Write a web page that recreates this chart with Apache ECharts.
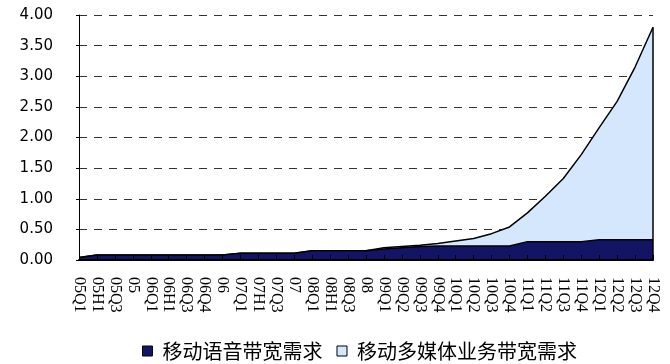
<!DOCTYPE html>
<html><head><meta charset="utf-8">
<script src="https://cdn.jsdelivr.net/npm/echarts@6/dist/echarts.min.js"></script>
<style>html,body{margin:0;padding:0;background:#fff;}#c{width:670px;height:364px;}</style>
</head><body><div id="c"></div>
<script>
const categories = ['05Q1','05H1','05Q3','05','06Q1','06H1','06Q3','06Q4','06','07Q1','07H1','07Q3','07','08Q1','08H1','08Q3','08','09Q1','09Q2','09Q3','09Q4','10Q1','10Q2','10Q3','10Q4','11Q1','11Q2','11Q3','11Q4','12Q1','12Q2','12Q3','12Q4'];
const voice = [0.04,0.08,0.08,0.08,0.08,0.08,0.08,0.08,0.08,0.11,0.11,0.11,0.11,0.15,0.15,0.15,0.15,0.18,0.20,0.22,0.23,0.23,0.23,0.23,0.23,0.30,0.30,0.30,0.30,0.33,0.33,0.33,0.33];
const multimedia = [0,0,0,0,0,0,0,0,0,0,0,0,0,0,0,0,0,0.02,0.02,0.02,0.04,0.08,0.12,0.20,0.31,0.47,0.74,1.03,1.42,1.83,2.26,2.82,3.47];
const yTicks = {min:0, max:4, interval:0.5};
const names = ['移动语音带宽需求','移动多媒体业务带宽需求'];
const colors = ['#141464','#D5E7FC'];

const last = categories.length - 1;
const lastTotal = voice[last] + multimedia[last];

const chart = echarts.init(document.getElementById('c'));
chart.setOption({
  animation:false,
  grid:{left:79, right:17, top:15, bottom:104},
  legend:{
    left:137, top:336, itemWidth:10, itemHeight:10, itemGap:14,
    textStyle:{fontFamily:'Noto Sans CJK SC', fontSize:20, color:'#000', padding:[0,0,0,5]},
    data:names.map((n,i)=>({name:n, icon:'rect', itemStyle:{color:colors[i], borderColor:'#000', borderWidth:1}}))
  },
  xAxis:{
    type:'category', data:categories, boundaryGap:false,
    axisLine:{lineStyle:{color:'#000', width:2}},
    axisTick:{inside:true, length:5, lineStyle:{color:'#000'}},
    axisLabel:{interval:0, rotate:-90, margin:17, fontFamily:'Liberation Serif', fontSize:16, color:'#000'},
    splitLine:{show:false}, z:10
  },
  yAxis:{
    type:'value', min:yTicks.min, max:yTicks.max, interval:yTicks.interval,
    axisLine:{show:true, lineStyle:{color:'#000', width:1}},
    axisTick:{show:true, length:3, lineStyle:{color:'#000'}},
    axisLabel:{margin:26, fontFamily:'DejaVu Sans', fontSize:15, color:'#000', formatter:v=>v.toFixed(2)},
    splitLine:{show:true, lineStyle:{color:'#333', width:1, type:[8,7]}}
  },
  series:[
    {name:names[0], type:'line', stack:'t', data:voice, symbol:'none',
     lineStyle:{color:'#000', width:1.5}, itemStyle:{color:colors[0]}, areaStyle:{color:colors[0], opacity:1}, z:3},
    {name:names[1], type:'line', stack:'t', data:multimedia, symbol:'none',
     lineStyle:{color:'#000', width:1.5}, itemStyle:{color:colors[1]}, areaStyle:{color:colors[1], opacity:1}, z:2,
     markLine:{silent:true, symbol:'none', label:{show:false}, lineStyle:{color:'#000', width:1.5, type:'solid'},
       data:[[{coord:[categories[last], 0]}, {coord:[categories[last], lastTotal]}]]}}
  ]
});
</script></body></html>
